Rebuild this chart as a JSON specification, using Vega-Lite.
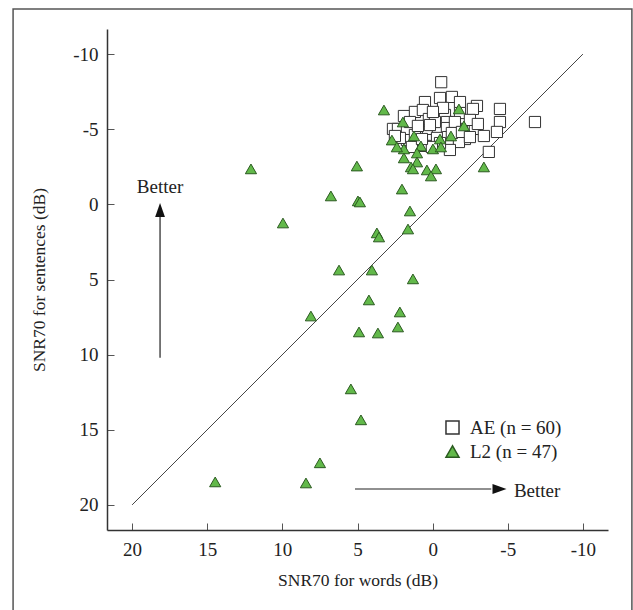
{
  "$schema": "https://vega.github.io/schema/vega-lite/v6.json",
  "width": 501,
  "height": 501,
  "autosize": {"type": "none"},
  "padding": {"left": 107, "top": 29, "right": 25, "bottom": 80},
  "background": "white",
  "config": {"view": {"stroke": null}, "font": "Liberation Serif"},
  "datasets": {
    "frame": [{"x": 27.92, "x2": -13.26, "y": -13.0, "y2": 28.0}],
    "diag": [{"x": 20, "y": 20, "x2": -10, "y2": -10}],
    "vshaft": [{"x": 18.14, "y": 10.2, "x2": 18.14, "y2": 0.8}],
    "hshaft": [{"x": 5.17, "y": 18.94, "x2": -3.9, "y2": 18.94}],
    "vhead": [{"x": 18.14, "y": 0.37}],
    "hhead": [{"x": -4.45, "y": 18.94}],
    "vtext": [{"x": 18.14, "y": -1.16, "label": "Better"}],
    "htext": [{"x": -5.41, "y": 19.07, "label": "Better"}],
    "points": [
      {"group": "AE (n = 60)", "x": -0.57, "y": -8.13},
      {"group": "AE (n = 60)", "x": -0.49, "y": -7.08},
      {"group": "AE (n = 60)", "x": -1.28, "y": -7.15},
      {"group": "AE (n = 60)", "x": 0.51, "y": -6.81},
      {"group": "AE (n = 60)", "x": -1.82, "y": -6.81},
      {"group": "AE (n = 60)", "x": -2.95, "y": -6.55},
      {"group": "AE (n = 60)", "x": -2.68, "y": -6.35},
      {"group": "AE (n = 60)", "x": -4.48, "y": -6.35},
      {"group": "AE (n = 60)", "x": -6.81, "y": -5.48},
      {"group": "AE (n = 60)", "x": 1.91, "y": -5.88},
      {"group": "AE (n = 60)", "x": 1.18, "y": -6.15},
      {"group": "AE (n = 60)", "x": 0.65, "y": -6.28},
      {"group": "AE (n = 60)", "x": -0.82, "y": -5.95},
      {"group": "AE (n = 60)", "x": -0.95, "y": -5.48},
      {"group": "AE (n = 60)", "x": -1.82, "y": -6.08},
      {"group": "AE (n = 60)", "x": 0.25, "y": -5.68},
      {"group": "AE (n = 60)", "x": -4.48, "y": -5.48},
      {"group": "AE (n = 60)", "x": 2.64, "y": -5.02},
      {"group": "AE (n = 60)", "x": 2.31, "y": -5.02},
      {"group": "AE (n = 60)", "x": 1.71, "y": -4.95},
      {"group": "AE (n = 60)", "x": 0.85, "y": -4.82},
      {"group": "AE (n = 60)", "x": 0.31, "y": -4.82},
      {"group": "AE (n = 60)", "x": -0.35, "y": -5.02},
      {"group": "AE (n = 60)", "x": -0.95, "y": -5.08},
      {"group": "AE (n = 60)", "x": -1.62, "y": -5.02},
      {"group": "AE (n = 60)", "x": -2.28, "y": -4.95},
      {"group": "AE (n = 60)", "x": -2.81, "y": -5.02},
      {"group": "AE (n = 60)", "x": -3.41, "y": -4.55},
      {"group": "AE (n = 60)", "x": -4.28, "y": -4.82},
      {"group": "AE (n = 60)", "x": 1.71, "y": -4.28},
      {"group": "AE (n = 60)", "x": 0.85, "y": -4.28},
      {"group": "AE (n = 60)", "x": 0.31, "y": -4.28},
      {"group": "AE (n = 60)", "x": -0.29, "y": -4.42},
      {"group": "AE (n = 60)", "x": -1.02, "y": -4.48},
      {"group": "AE (n = 60)", "x": -1.68, "y": -4.28},
      {"group": "AE (n = 60)", "x": -2.15, "y": -4.35},
      {"group": "AE (n = 60)", "x": 1.38, "y": -3.82},
      {"group": "AE (n = 60)", "x": 0.51, "y": -3.89},
      {"group": "AE (n = 60)", "x": -1.15, "y": -3.89},
      {"group": "AE (n = 60)", "x": -1.75, "y": -4.15},
      {"group": "AE (n = 60)", "x": -1.15, "y": -3.62},
      {"group": "AE (n = 60)", "x": -3.74, "y": -3.49},
      {"group": "AE (n = 60)", "x": 1.51, "y": -5.48},
      {"group": "AE (n = 60)", "x": -0.15, "y": -5.48},
      {"group": "AE (n = 60)", "x": -1.48, "y": -5.48},
      {"group": "AE (n = 60)", "x": -2.48, "y": -5.62},
      {"group": "AE (n = 60)", "x": 1.18, "y": -4.62},
      {"group": "AE (n = 60)", "x": -0.49, "y": -4.08},
      {"group": "AE (n = 60)", "x": 2.18, "y": -4.42},
      {"group": "AE (n = 60)", "x": 0.18, "y": -5.28},
      {"group": "AE (n = 60)", "x": -1.28, "y": -4.75},
      {"group": "AE (n = 60)", "x": -3.01, "y": -5.35},
      {"group": "AE (n = 60)", "x": 0.98, "y": -5.22},
      {"group": "AE (n = 60)", "x": -0.69, "y": -6.42},
      {"group": "AE (n = 60)", "x": -0.02, "y": -6.15},
      {"group": "AE (n = 60)", "x": -1.95, "y": -4.82},
      {"group": "AE (n = 60)", "x": 2.51, "y": -4.55},
      {"group": "AE (n = 60)", "x": 0.05, "y": -3.82},
      {"group": "AE (n = 60)", "x": -2.48, "y": -4.48},
      {"group": "AE (n = 60)", "x": 0.71, "y": -4.35},
      {"group": "L2 (n = 47)", "x": 3.24, "y": -6.28},
      {"group": "L2 (n = 47)", "x": -1.75, "y": -6.35},
      {"group": "L2 (n = 47)", "x": 1.98, "y": -5.48},
      {"group": "L2 (n = 47)", "x": -2.08, "y": -5.22},
      {"group": "L2 (n = 47)", "x": 2.71, "y": -4.28},
      {"group": "L2 (n = 47)", "x": 1.24, "y": -4.55},
      {"group": "L2 (n = 47)", "x": -0.49, "y": -4.35},
      {"group": "L2 (n = 47)", "x": -1.22, "y": -4.55},
      {"group": "L2 (n = 47)", "x": 1.91, "y": -3.69},
      {"group": "L2 (n = 47)", "x": 0.78, "y": -3.89},
      {"group": "L2 (n = 47)", "x": -0.02, "y": -3.69},
      {"group": "L2 (n = 47)", "x": -0.55, "y": -3.82},
      {"group": "L2 (n = 47)", "x": 1.04, "y": -3.42},
      {"group": "L2 (n = 47)", "x": 1.91, "y": -3.09},
      {"group": "L2 (n = 47)", "x": 1.04, "y": -2.82},
      {"group": "L2 (n = 47)", "x": 1.44, "y": -2.49},
      {"group": "L2 (n = 47)", "x": 1.31, "y": -2.36},
      {"group": "L2 (n = 47)", "x": 0.38, "y": -2.29},
      {"group": "L2 (n = 47)", "x": -0.22, "y": -2.36},
      {"group": "L2 (n = 47)", "x": 0.11, "y": -1.89},
      {"group": "L2 (n = 47)", "x": -3.41, "y": -2.49},
      {"group": "L2 (n = 47)", "x": 12.09, "y": -2.36},
      {"group": "L2 (n = 47)", "x": 5.04, "y": -2.55},
      {"group": "L2 (n = 47)", "x": 2.04, "y": -1.02},
      {"group": "L2 (n = 47)", "x": 6.77, "y": -0.56},
      {"group": "L2 (n = 47)", "x": 4.97, "y": -0.23},
      {"group": "L2 (n = 47)", "x": 4.84, "y": -0.16},
      {"group": "L2 (n = 47)", "x": 1.51, "y": 0.44},
      {"group": "L2 (n = 47)", "x": 9.96, "y": 1.24},
      {"group": "L2 (n = 47)", "x": 3.71, "y": 1.90},
      {"group": "L2 (n = 47)", "x": 3.57, "y": 2.17},
      {"group": "L2 (n = 47)", "x": 1.64, "y": 1.64},
      {"group": "L2 (n = 47)", "x": 6.23, "y": 4.37},
      {"group": "L2 (n = 47)", "x": 4.04, "y": 4.37},
      {"group": "L2 (n = 47)", "x": 1.31, "y": 4.96},
      {"group": "L2 (n = 47)", "x": 4.24, "y": 6.36},
      {"group": "L2 (n = 47)", "x": 8.10, "y": 7.43},
      {"group": "L2 (n = 47)", "x": 2.18, "y": 7.16},
      {"group": "L2 (n = 47)", "x": 4.90, "y": 8.49},
      {"group": "L2 (n = 47)", "x": 3.64, "y": 8.56},
      {"group": "L2 (n = 47)", "x": 2.31, "y": 8.16},
      {"group": "L2 (n = 47)", "x": 5.44, "y": 12.28},
      {"group": "L2 (n = 47)", "x": 4.77, "y": 14.34},
      {"group": "L2 (n = 47)", "x": 7.50, "y": 17.20},
      {"group": "L2 (n = 47)", "x": 14.47, "y": 18.47},
      {"group": "L2 (n = 47)", "x": 8.43, "y": 18.54},
      {"group": "L2 (n = 47)", "x": 2.38, "y": -3.82}
    ]
  },
  "encoding": {
    "x": {
      "field": "x",
      "type": "quantitative",
      "scale": {"domain": [-11.67, 21.67], "reverse": true, "nice": false, "zero": false},
      "axis": {
        "title": "SNR70 for words (dB)",
        "values": [20, 15, 10, 5, 0, -5, -10],
        "labelExpr": "'' + datum.value",
        "grid": false,
        "tickSize": -7,
        "tickColor": "#555",
        "domainColor": "#333",
        "domainWidth": 1.5,
        "labelFont": "Liberation Serif",
        "labelFontSize": 19,
        "labelColor": "#222",
        "labelPadding": 17,
        "labelFlush": false,
        "titleFont": "Liberation Serif",
        "titleFontSize": 17.5,
        "titleFontWeight": "normal",
        "titleColor": "#222",
        "titlePadding": 12
      }
    },
    "y": {
      "field": "y",
      "type": "quantitative",
      "scale": {"domain": [-11.67, 21.67], "reverse": true, "nice": false, "zero": false},
      "axis": {
        "title": "SNR70 for sentences (dB)",
        "values": [-10, -5, 0, 5, 10, 15, 20],
        "labelExpr": "'' + datum.value",
        "grid": false,
        "tickSize": -7,
        "tickColor": "#555",
        "domainColor": "#333",
        "domainWidth": 1.5,
        "labelFont": "Liberation Serif",
        "labelFontSize": 19,
        "labelColor": "#222",
        "labelPadding": 16,
        "labelFlush": false,
        "titleFont": "Liberation Serif",
        "titleFontSize": 17.5,
        "titleFontWeight": "normal",
        "titleColor": "#222",
        "titlePadding": 24
      }
    }
  },
  "layer": [
    {
      "data": {"name": "frame"},
      "mark": {"type": "rect", "fillOpacity": 0, "stroke": "#555", "strokeWidth": 1.5, "clip": false},
      "encoding": {"x2": {"field": "x2"}, "y2": {"field": "y2"}}
    },
    {
      "data": {"name": "diag"},
      "mark": {"type": "rule", "color": "#444", "strokeWidth": 1},
      "encoding": {"x2": {"field": "x2"}, "y2": {"field": "y2"}}
    },
    {
      "data": {"name": "vshaft"},
      "mark": {"type": "rule", "color": "#222", "strokeWidth": 1.2},
      "encoding": {"x2": {"field": "x2"}, "y2": {"field": "y2"}}
    },
    {
      "data": {"name": "hshaft"},
      "mark": {"type": "rule", "color": "#222", "strokeWidth": 1.2},
      "encoding": {"x2": {"field": "x2"}, "y2": {"field": "y2"}}
    },
    {
      "data": {"name": "vhead"},
      "mark": {"type": "point", "shape": "M0,-1L0.7,1L-0.7,1Z", "size": 196, "filled": true, "color": "#111", "opacity": 1}
    },
    {
      "data": {"name": "hhead"},
      "mark": {"type": "point", "shape": "M1,0L-1,-0.7L-1,0.7Z", "size": 196, "filled": true, "color": "#111", "opacity": 1}
    },
    {
      "data": {"name": "vtext"},
      "mark": {"type": "text", "font": "Liberation Serif", "fontSize": 19, "color": "#222", "align": "center", "baseline": "middle"},
      "encoding": {"text": {"field": "label"}}
    },
    {
      "data": {"name": "htext"},
      "mark": {"type": "text", "font": "Liberation Serif", "fontSize": 19, "color": "#222", "align": "left", "baseline": "middle"},
      "encoding": {"text": {"field": "label"}}
    },
    {
      "data": {"name": "points"},
      "mark": {"type": "point", "filled": true, "opacity": 1, "strokeWidth": 1, "size": 125},
      "encoding": {
        "shape": {
          "field": "group",
          "type": "nominal",
          "scale": {"domain": ["AE (n = 60)", "L2 (n = 47)"], "range": ["square", "triangle-up"]},
          "legend": {
            "orient": "none",
            "legendX": 336,
            "legendY": 389,
            "title": null,
            "labelFont": "Liberation Serif",
            "labelFontSize": 19,
            "labelColor": "#222",
            "symbolSize": 170,
            "symbolStrokeWidth": 1.5,
            "labelOffset": 8,
            "rowPadding": 4,
            "padding": 0
          }
        },
        "fill": {
          "field": "group",
          "type": "nominal",
          "scale": {"domain": ["AE (n = 60)", "L2 (n = 47)"], "range": ["#ffffff", "#62b94a"]}
        },
        "stroke": {
          "field": "group",
          "type": "nominal",
          "scale": {"domain": ["AE (n = 60)", "L2 (n = 47)"], "range": ["#333333", "#2b5a20"]}
        }
      }
    }
  ]
}
